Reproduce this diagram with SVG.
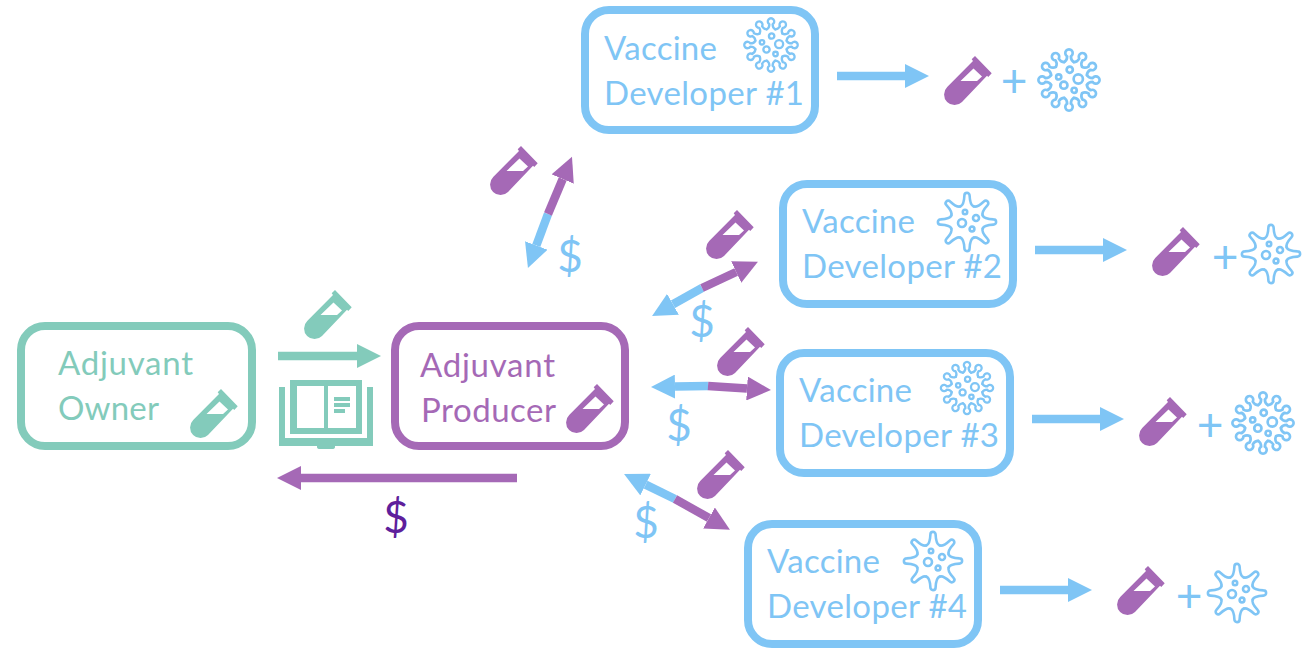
<svg xmlns="http://www.w3.org/2000/svg" width="1314" height="648" viewBox="0 0 1314 648">
<style>
.box{fill:#fff;stroke-width:8}
.t{font-family:"Lato","Open Sans",sans-serif;font-size:33px}
.d{font-family:"Lato","Open Sans",sans-serif;font-size:44px}
.plus{font-family:"Lato","Open Sans",sans-serif;font-size:46px;text-anchor:middle}
.g{fill:#83CBBB}.p{fill:#A569B6}.b{fill:#7FC5F5}
.sg{stroke:#83CBBB}.sp{stroke:#A569B6}.sb{stroke:#7FC5F5}
.a{stroke-width:8.500;fill:none}
.ap{stroke:#A569B6;marker-end:url(#hp)}.ab{stroke:#7FC5F5;marker-end:url(#hb)}.ag{stroke:#83CBBB;marker-end:url(#hg)}
.v{fill:none;stroke:#7FC5F5;stroke-width:2.600;stroke-linecap:round;stroke-linejoin:round}
</style>
<defs>
<marker id="hp" markerUnits="userSpaceOnUse" markerWidth="25" markerHeight="24" refX="0" refY="12" orient="auto"><path d="M0 0L24 12L0 24z" fill="#A569B6"/></marker>
<marker id="hb" markerUnits="userSpaceOnUse" markerWidth="25" markerHeight="24" refX="0" refY="12" orient="auto"><path d="M0 0L24 12L0 24z" fill="#7FC5F5"/></marker>
<marker id="hg" markerUnits="userSpaceOnUse" markerWidth="25" markerHeight="24" refX="0" refY="12" orient="auto"><path d="M0 0L24 12L0 24z" fill="#83CBBB"/></marker>
<path id="tube" fill-rule="evenodd" d="M31 -2L47.700 15.300L44.300 19L43 17.800L18 44A10.500 10.500 0 0 1 3.200 29L29 3L27.700 1.300ZM16.500 23L29.500 10.500L38 18.500L33 23Z"/>
<path id="sa" d="M-4.660 -17.400Q-1.800 -19 -1.800 -23A3.600 3.600 0 1 1 1.800 -23Q1.800 -19 4.660 -17.400"/>
<g id="va" class="v">
<use href="#sa"/><use href="#sa" transform="rotate(30)"/><use href="#sa" transform="rotate(60)"/><use href="#sa" transform="rotate(90)"/><use href="#sa" transform="rotate(120)"/><use href="#sa" transform="rotate(150)"/><use href="#sa" transform="rotate(180)"/><use href="#sa" transform="rotate(210)"/><use href="#sa" transform="rotate(240)"/><use href="#sa" transform="rotate(270)"/><use href="#sa" transform="rotate(300)"/><use href="#sa" transform="rotate(330)"/>
<circle cx="0.700" cy="-10" r="3"/><circle cx="-10" cy="-3" r="2.500"/><circle cx="9" cy="-1" r="4.500"/><circle cx="-5" cy="5" r="3.500"/><circle cx="5" cy="10" r="2.500"/>
</g>
<path id="sb" d="M-6.500 -15.700Q-3 -17 -2.600 -26.500A2.600 2.600 0 0 1 2.600 -26.500Q3 -17 6.500 -15.700"/>
<g id="vb" class="v">
<use href="#sb"/><use href="#sb" transform="rotate(45)"/><use href="#sb" transform="rotate(90)"/><use href="#sb" transform="rotate(135)"/><use href="#sb" transform="rotate(180)"/><use href="#sb" transform="rotate(225)"/><use href="#sb" transform="rotate(270)"/><use href="#sb" transform="rotate(315)"/>
<circle cx="-2" cy="-10" r="2.200"/><circle cx="-5" cy="1" r="4"/><circle cx="9" cy="-4" r="3"/><circle cx="5" cy="7" r="2.400"/>
</g>
</defs>
<rect width="1314" height="648" fill="#fff"/>

<g id="connectors" class="a">
<line class="ag" x1="278" y1="356" x2="357" y2="356"/>
<line class="ap" x1="517" y1="478" x2="301" y2="478"/>
<line class="ab" x1="837" y1="76" x2="905" y2="76"/>
<line class="ab" x1="1035" y1="250" x2="1103" y2="250"/>
<line class="ab" x1="1032" y1="419" x2="1100" y2="419"/>
<line class="ab" x1="1000" y1="590" x2="1068" y2="590"/>
<line class="ab" x1="548" y1="214" x2="536.300" y2="245.500"/>
<line class="ap" x1="548" y1="214" x2="562.700" y2="179"/>
<line class="ab" x1="702" y1="288" x2="673" y2="304.300"/>
<line class="ap" x1="702" y1="288" x2="736.200" y2="272"/>
<line class="ab" x1="708" y1="386" x2="675" y2="386.600"/>
<line class="ap" x1="708" y1="386" x2="747" y2="388.500"/>
<line class="ab" x1="675" y1="499" x2="645.600" y2="484.600"/>
<line class="ap" x1="675" y1="499" x2="709" y2="518"/>
</g>

<g id="adjuvant-owner">
<rect class="box sg" x="21" y="326" width="231" height="120" rx="24"/>
<text class="t g" x="58" y="375" textLength="135">Adjuvant</text>
<text class="t g" x="58" y="420" textLength="101">Owner</text>
<use href="#tube" class="g" x="190" y="391"/>
</g>
<g id="adjuvant-producer">
<rect class="box sp" x="395" y="326" width="230" height="120" rx="24"/>
<text class="t p" x="420" y="377" textLength="135">Adjuvant</text>
<text class="t p" x="421" y="422" textLength="135">Producer</text>
<use href="#tube" class="p" x="566" y="386"/>
</g>
<g id="vaccine-developer-1">
<rect class="box sb" x="585" y="10" width="230" height="120" rx="24"/>
<text class="t b" x="604" y="60" textLength="113">Vaccine</text>
<text class="t b" x="604" y="105" textLength="200">Developer #1</text>
<use href="#va" transform="translate(771 45) scale(.9)"/>
</g>
<g id="vaccine-developer-2">
<rect class="box sb" x="783" y="184" width="230" height="120" rx="24"/>
<text class="t b" x="802" y="233" textLength="113">Vaccine</text>
<text class="t b" x="802" y="278" textLength="200">Developer #2</text>
<use href="#vb" transform="translate(967 222)"/>
</g>
<g id="vaccine-developer-3">
<rect class="box sb" x="780" y="353" width="230" height="120" rx="24"/>
<text class="t b" x="799" y="402" textLength="113">Vaccine</text>
<text class="t b" x="799" y="447" textLength="200">Developer #3</text>
<use href="#va" transform="translate(967 388) scale(.88)"/>
</g>
<g id="vaccine-developer-4">
<rect class="box sb" x="748" y="524" width="230" height="120" rx="24"/>
<text class="t b" x="767" y="573" textLength="113">Vaccine</text>
<text class="t b" x="767" y="618" textLength="200">Developer #4</text>
<use href="#vb" transform="translate(933 561)"/>
</g>

<g id="output-1"><use href="#tube" class="p" x="944" y="58"/><text class="plus b" x="1014" y="97">+</text><use href="#va" transform="translate(1069 80) scale(1.03)"/></g>
<g id="output-2"><use href="#tube" class="p" x="1152" y="229"/><text class="plus b" x="1225" y="273">+</text><use href="#vb" transform="translate(1271 254)"/></g>
<g id="output-3"><use href="#tube" class="p" x="1139" y="399"/><text class="plus b" x="1210" y="441">+</text><use href="#va" transform="translate(1263 423) scale(1.03)"/></g>
<g id="output-4"><use href="#tube" class="p" x="1117" y="568"/><text class="plus b" x="1189" y="612">+</text><use href="#vb" transform="translate(1237 593)"/></g>

<g id="license-book" class="g">
<path fill-rule="evenodd" d="M290 380H362V434H290ZM297 386V428H324V386ZM328 386V428H356V386Z"/>
<path d="M334 397H350V401H334ZM334 403H350V407H334ZM334 409H345V413H334ZM279 387H285V438H367V387H373V446H335V447Q335 449 332 449H320Q317 449 317 447V446H279Z"/>
</g>
<g id="material-labels">
<use href="#tube" class="g" x="304" y="292"/>
<use href="#tube" class="p" x="490" y="148"/>
<use href="#tube" class="p" x="706" y="212"/>
<use href="#tube" class="p" x="717" y="329"/>
<use href="#tube" class="p" x="697" y="452"/>
</g>
<g id="payment-labels">
<text class="d" fill="#5E1F9C" x="396" y="533" text-anchor="middle">$</text>
<text class="d b" x="570" y="272" text-anchor="middle">$</text>
<text class="d b" x="702" y="337" text-anchor="middle">$</text>
<text class="d b" x="679" y="441" text-anchor="middle">$</text>
<text class="d b" x="646" y="538" text-anchor="middle">$</text>
</g>
</svg>
